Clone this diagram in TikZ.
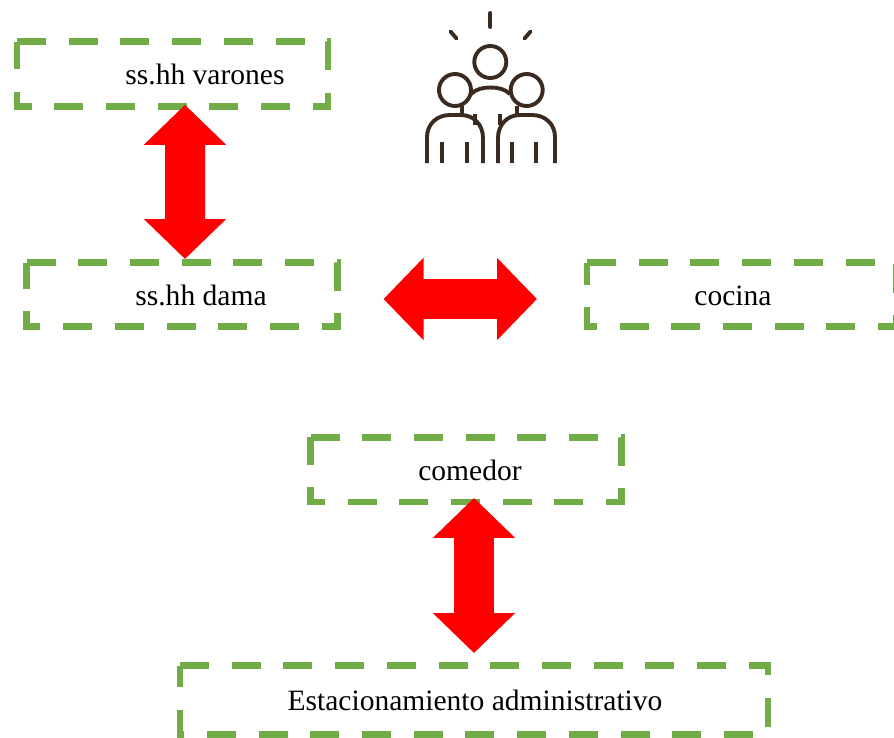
\documentclass[tikz,border=0pt]{standalone}
\usepackage{fontspec}
\setmainfont{Liberation Serif}
\usetikzlibrary{arrows.meta}

\newcommand{\px}{0.025cm}
\definecolor{verdezona}{RGB}{112,173,71}
\definecolor{marron}{RGB}{58,42,32}

\tikzset{
	caja/.style={inner sep=0pt, outer sep=0pt},
	zona/.style={draw=verdezona, line width=6.6*\px, dash pattern=on 29*\px off 22.7*\px},
	rotulo/.style={font=\fontsize{21}{25}\selectfont, text=black, text height=15pt, text depth=0pt, inner sep=0pt},
	flecha/.style={draw=red, line width=40*\px, {Triangle[length=40*\px,width=80*\px]}-{Triangle[length=40*\px,width=80*\px]}},
	icono/.style={draw=marron, line width=3.9*\px}
}

\begin{document}
\begin{tikzpicture}[x=\px, y=-\px]
	\useasboundingbox (0,0) rectangle (894,737);

	\foreach \nombre/\x/\y/\ancho/\alto/\dx/\texto in {varones/172.5/74/311/64.6/32.5/ss.hh varones,
		dama/182/294.5/311/64/19/ss.hh dama, cocina/741.5/294.5/309/64/-8.5/cocina,
		comedor/466/469.7/311/64.5/4/comedor, estacionamiento/474/700/588/69/1/Estacionamiento administrativo}
	{
		\node[caja, minimum width=\ancho*\px, minimum height=\alto*\px,
			label={[rotulo, name=\nombre txt, xshift=\dx*\px]center:\texto}] (\nombre) at (\x,\y) {};
		\draw[zona] (\nombre.north west) -- (\nombre.north east) -- (\nombre.south east) -- (\nombre.south west) -- cycle;
	}

	\draw[flecha] ([shift={(12.5,-1.5)}]varones.south) -- ([shift={(3,-3.5)}]dama.north);
	\draw[flecha] ([shift={(46,4.5)}]dama.east) -- ([shift={(-50,4.5)}]cocina.west);
	\draw[flecha] ([shift={(8,-4)}]comedor.south) -- ([shift={(0,-12.5)}]estacionamiento.north);

	% personas
	\draw[icono, line cap=round] (490.3,13) -- (490.3,27);
	\draw[icono, line cap=round] (450.5,31.5) -- (456.5,38.5);
	\draw[icono, line cap=round] (530.5,31.5) -- (524.5,38.5);
	\draw[icono] (490.3,62) circle (16);
	\draw[icono] (455,90) circle (16);
	\draw[icono] (526.7,90) circle (16);
	\draw[icono] (471,94) .. controls (476,89) and (483,87.5) .. (490.3,87.5) .. controls (498,87.5) and (505,89) .. (510,94);
	\draw[icono] (427,163) -- (427,137) .. controls (427,124) and (437,115) .. (450,115) -- (461,115)
		.. controls (474,115) and (483,125) .. (483,138) -- (483,163);
	\draw[icono] (498,163) -- (498,138) .. controls (498,125) and (507,115) .. (520,115) -- (532,115)
		.. controls (545,115) and (555,124) .. (555,137) -- (555,163);
	\foreach \x in {441.7,466.7,511.7,536}
		\draw[icono] (\x,142) -- (\x,163);
	\draw[icono] (461.7,106) -- (461.7,115);
	\draw[icono] (475,114) -- (475,125);
	\draw[icono] (500,114) -- (500,125);
	\draw[icono] (516.7,106) -- (516.7,115);
\end{tikzpicture}
\end{document}
